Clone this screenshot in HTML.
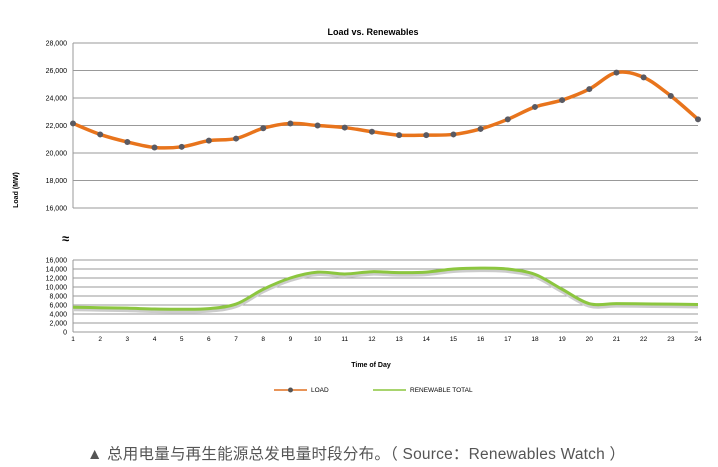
<!DOCTYPE html>
<html><head><meta charset="utf-8"><style>
html,body{margin:0;padding:0;background:#fff;width:718px;height:467px;overflow:hidden}
svg text{font-family:"Liberation Sans",sans-serif}
</style></head><body>
<svg id="s" width="718" height="467" xmlns="http://www.w3.org/2000/svg">
<text x="373" y="35" font-size="9" font-weight="bold" text-anchor="middle">Load vs. Renewables</text>
<text transform="translate(18,190) rotate(-90)" font-size="7" font-weight="bold" text-anchor="middle">Load (MW)</text>
<text x="62" y="243" font-size="13" font-weight="bold">≈</text>
<text x="371" y="367" font-size="7" font-weight="bold" text-anchor="middle">Time of Day</text>
<line x1="274" y1="390" x2="307" y2="390" stroke="#e07020" stroke-width="1.5"/>
<circle cx="290.5" cy="390" r="2.5" fill="#555"/>
<text x="311" y="392" font-size="6.5">LOAD</text>
<line x1="373" y1="390" x2="406" y2="390" stroke="#8cc63f" stroke-width="1.5"/>
<text x="410" y="392" font-size="6.5">RENEWABLE TOTAL</text>
<text x="87" y="459" font-size="15.5" fill="#555" textLength="538" lengthAdjust="spacing" style='font-family:"Liberation Sans","Noto Sans CJK SC",sans-serif'>▲ 总用电量与再生能源总发电量时段分布。（ Source：Renewables Watch ）</text>
<g id="g"></g>
</svg>
<script>
var g=document.getElementById('g'),h='';
function X(i){return 73+(i-1)*625/23;}
function YT(v){return 43+(28000-v)/2000*27.5;}
function YB(v){return 332-v/2000*9;}
for(var v=16000;v<=28000;v+=2000){var y=YT(v);h+='<line x1="73" x2="698" y1="'+y+'" y2="'+y+'" stroke="#999" stroke-width="1"/>';h+='<text x="67" y="'+(y+2.5)+'" font-size="7" text-anchor="end">'+v.toLocaleString('en-US')+'</text>';}
for(var v=0;v<=16000;v+=2000){var y=YB(v);h+='<line x1="73" x2="698" y1="'+y+'" y2="'+y+'" stroke="#999" stroke-width="1"/>';h+='<text x="67" y="'+(y+2.5)+'" font-size="7" text-anchor="end">'+v.toLocaleString('en-US')+'</text>';}
h+='<line x1="73" x2="73" y1="43" y2="208" stroke="#999"/><line x1="73" x2="73" y1="260" y2="332" stroke="#999"/>';
for(var i=1;i<=24;i++){h+='<text x="'+X(i)+'" y="341" font-size="6.5" text-anchor="middle">'+i+'</text>';}
var L=[22150,21350,20800,20400,20450,20900,21050,21800,22150,22000,21850,21550,21300,21300,21350,21750,22450,23350,23850,24650,25850,25500,24150,22450];
var R=[5500,5400,5300,5100,5050,5200,6200,9500,12000,13300,12900,13400,13200,13300,14000,14200,14000,12800,9500,6300,6300,6250,6200,6100];
function path(a,f){var p=a.map(function(v,i){return [X(i+1),f(v)]});var d='M'+p[0][0]+','+p[0][1];
for(var i=0;i<p.length-1;i++){var p0=p[Math.max(i-1,0)],p1=p[i],p2=p[i+1],p3=p[Math.min(i+2,p.length-1)];
d+=' C'+(p1[0]+(p2[0]-p0[0])/6)+','+(p1[1]+(p2[1]-p0[1])/6)+' '+(p2[0]-(p3[0]-p1[0])/6)+','+(p2[1]-(p3[1]-p1[1])/6)+' '+p2[0]+','+p2[1];}return d;}
var pr=path(R,YB);
h+='<path d="'+pr+'" transform="translate(0,2)" fill="none" stroke="#ccc" stroke-width="4"/>';
h+='<path d="'+pr+'" fill="none" stroke="#8cc63f" stroke-width="3"/>';
h+='<path d="'+path(L,YT)+'" fill="none" stroke="#e8741c" stroke-width="3.5"/>';
L.forEach(function(v,i){h+='<circle cx="'+X(i+1)+'" cy="'+YT(v)+'" r="3" fill="#5a5a62"/>';});
g.innerHTML=h;
</script>
</body></html>
